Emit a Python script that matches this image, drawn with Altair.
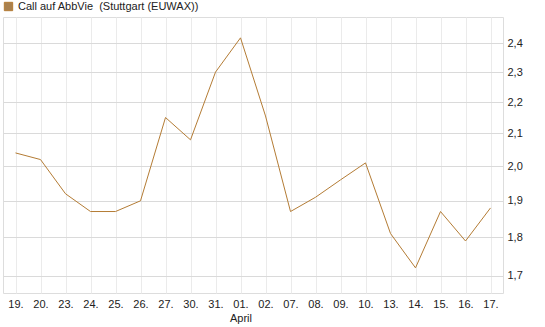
import altair as alt
import pandas as pd

dates = ["19.", "20.", "23.", "24.", "25.", "26.", "27.", "30.", "31.", "01.",
         "02.", "07.", "08.", "09.", "10.", "13.", "14.", "15.", "16.", "17."]
months = ["", "", "", "", "", "", "", "", "", "April",
          "", "", "", "", "", "", "", "", "", ""]
prices = [2.04, 2.02, 1.92, 1.87, 1.87, 1.90, 2.15, 2.08, 2.30, 2.42,
          2.155, 1.87, 1.91, 1.96, 2.01, 1.81, 1.72, 1.87, 1.79, 1.88]
y_ticks = [1.7, 1.8, 1.9, 2.0, 2.1, 2.2, 2.3, 2.4]
series_name = "Call auf AbbVie\u00a0 (Stuttgart (EUWAX))"

df = pd.DataFrame({"date": dates, "price": prices, "series": series_name})

month_map = {d: m for d, m in zip(dates, months) if m}
label_expr = "datum.value"
for d, m in month_map.items():
    label_expr = f"datum.value == '{d}' ? ['{d}', '{m}'] : ({label_expr})"

line_color = "#B47C35"

chart = alt.Chart(df).mark_line(strokeWidth=1).encode(
    x=alt.X("date:O", sort=None,
            scale=alt.Scale(type="point", padding=0.5),
            axis=alt.Axis(title=None, labelAngle=0, ticks=False, domain=False,
                          grid=True, gridColor="#ebebeb",
                          labelExpr=label_expr, labelLineHeight=14,
                          labelPadding=5, labelFont="Liberation Sans",
                          labelFontSize=11, labelColor="#222222",
                          labelBaseline="top")),
    y=alt.Y("price:Q",
            scale=alt.Scale(type="log", domain=[1.657, 2.496], nice=False, zero=False),
            axis=alt.Axis(title=None, orient="right", values=y_ticks, format=".1f",
                          labelExpr="replace(datum.label, '.', ',')",
                          ticks=False, domain=False, grid=True, gridColor="#dadada",
                          labelPadding=4, labelFont="Liberation Sans",
                          labelFontSize=11, labelColor="#222222")),
    color=alt.Color("series:N",
                    scale=alt.Scale(range=[line_color]),
                    legend=alt.Legend(orient="none", legendX=0, legendY=-16,
                                      title=None, symbolType="square",
                                      symbolSize=70, symbolStrokeColor="#444444",
                                      symbolStrokeWidth=1, symbolFillColor="#A9814F",
                                      labelFont="Liberation Sans", labelFontSize=11,
                                      labelColor="#222222", labelOffset=4,
                                      labelLimit=400, padding=0)),
).properties(
    width=500, height=276,
    padding={"left": 3, "top": 17, "right": 42, "bottom": 34},
    autosize=alt.AutoSizeParams(type="none"),
).configure_view(
    stroke="#cccccc"
).configure(background="white")

chart.save("out.html", embed_options={"renderer": "svg", "actions": False})
